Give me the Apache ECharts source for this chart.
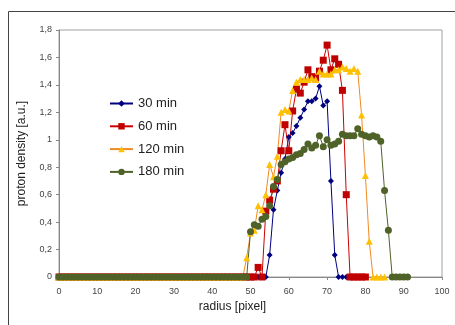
<!DOCTYPE html>
<html>
<head>
<meta charset="utf-8">
<script src="https://cdn.jsdelivr.net/npm/echarts@6/dist/echarts.min.js"></script>
<style>
  html, body { margin: 0; padding: 0; background: #fff; }
  #chart { width: 455px; height: 325px; }
</style>
</head>
<body>
<div id="chart"></div>
<script>
// radius positions in pixel (one per sample)
const radius = [
  0, 1, 2, 3, 4, 5, 6, 7, 8, 9,
  10, 11, 12, 13, 14, 15, 16, 17, 18, 19,
  20, 21, 22, 23, 24, 25, 26, 27, 28, 29,
  30, 31, 32, 33, 34, 35, 36, 37, 38, 39,
  40, 41, 42, 43, 44, 45, 46, 47, 48, 49,
  50, 51, 52, 53, 54, 55, 56, 57, 58, 59,
  60, 61, 62, 63, 64, 65, 66, 67, 68, 69,
  70, 71, 72, 73, 74, 75, 76, 77, 78, 79,
  80, 81, 82, 83, 84, 85, 86, 87, 88, 89,
  90, 91
];

const seriesNames = ["30 min", "60 min", "120 min", "180 min"];

// values from radius 0 upwards
const min30 = [
  0, 0, 0, 0, 0, 0, 0, 0, 0, 0,
  0, 0, 0, 0, 0, 0, 0, 0, 0, 0,
  0, 0, 0, 0, 0, 0, 0, 0, 0, 0,
  0, 0, 0, 0, 0, 0, 0, 0, 0, 0,
  0, 0, 0, 0, 0, 0, 0, 0, 0, 0,
  0, 0, 0, 0, 0, 0.16, 0.49, 0.63, 0.76, 0.86,
  1.02, 1.05, 1.1, 1.16, 1.22, 1.28, 1.28, 1.3, 1.39, 1.25,
  1.28, 0.7, 0.16, 0, 0, 0
];

const min60 = [
  0, 0, 0, 0, 0, 0, 0, 0, 0, 0,
  0, 0, 0, 0, 0, 0, 0, 0, 0, 0,
  0, 0, 0, 0, 0, 0, 0, 0, 0, 0,
  0, 0, 0, 0, 0, 0, 0, 0, 0, 0,
  0, 0, 0, 0, 0, 0, 0, 0, 0, 0,
  0, 0, 0.07, 0, 0.48, 0.56, 0.64, 0.7, 0.92, 1.11,
  0.92, 1.21, 1.37, 1.34, 1.42, 1.51, 1.46, 1.45, 1.5, 1.58,
  1.69, 1.51, 1.59, 1.55, 1.36, 0.6, 0, 0, 0, 0,
  0
];

const min120 = [
  0, 0, 0, 0, 0, 0, 0, 0, 0, 0,
  0, 0, 0, 0, 0, 0, 0, 0, 0, 0,
  0, 0, 0, 0, 0, 0, 0, 0, 0, 0,
  0, 0, 0, 0, 0, 0, 0, 0, 0, 0,
  0, 0, 0, 0, 0, 0, 0, 0, 0, 0.14,
  0.32, 0.34, 0.52, 0.49, 0.6, 0.82, 0.73, 0.88, 1.2, 1.22,
  1.21, 1.36, 1.42, 1.44, 1.44, 1.44, 1.45, 1.44, 1.5, 1.48,
  1.48, 1.48, 1.51, 1.51, 1.53, 1.52, 1.5, 1.52, 1.5, 1.18,
  0.74, 0.26, 0, 0, 0, 0
];

const min180 = [
  0, 0, 0, 0, 0, 0, 0, 0, 0, 0,
  0, 0, 0, 0, 0, 0, 0, 0, 0, 0,
  0, 0, 0, 0, 0, 0, 0, 0, 0, 0,
  0, 0, 0, 0, 0, 0, 0, 0, 0, 0,
  0, 0, 0, 0, 0, 0, 0, 0, 0, 0,
  0.33, 0.38, 0.37, 0.42, 0.44, 0.52, 0.66, 0.71, 0.82, 0.84,
  0.86, 0.87, 0.89, 0.9, 0.93, 0.97, 0.94, 0.96, 1.03, 0.95,
  1.0, 0.96, 0.97, 0.99, 1.04, 1.03, 1.03, 1.03, 1.08, 1.04,
  1.03, 1.02, 1.03, 1.02, 0.99, 0.63, 0.34, 0, 0, 0,
  0, 0
];

const font = "'Liberation Sans', Arial, sans-serif";

function pairs(vals) {
  return vals.map((v, i) => [radius[i], v]);
}

const styles = [
  { line: "#000080", marker: "#000080", symbol: "diamond", size: 6 },
  { line: "#CC0000", marker: "#C00000", symbol: "rect", size: 7 },
  { line: "#F08A24", marker: "#FFC000", symbol: "triangle", size: 7 },
  { line: "#4F6228", marker: "#4F6228", symbol: "circle", size: 7 },
];

const allValues = [min30, min60, min120, min180];

const chart = echarts.init(document.getElementById("chart"));
const option = {
  animation: false,
  backgroundColor: "#fff",
  textStyle: { fontFamily: font },
  graphic: [
    {
      type: "rect",
      shape: { x: 8.5, y: 11.5, width: 500, height: 400 },
      style: { fill: "none", stroke: "#444", lineWidth: 1 },
      z: -1,
    },
  ],
  grid: {
    left: 59,
    right: 13,
    top: 30,
    bottom: 48,
    show: true,
    borderColor: "#A0A0A0",
    borderWidth: 1,
  },
  legend: {
    orient: "vertical",
    left: 104,
    top: 92,
    itemWidth: 23,
    itemHeight: 8,
    itemGap: 9.8,
    textStyle: { fontFamily: font, fontSize: 13, color: "#222" },
    data: seriesNames,
  },
  xAxis: {
    type: "value",
    min: 0,
    max: 100,
    interval: 10,
    name: "radius [pixel]",
    nameLocation: "middle",
    nameGap: 18,
    nameTextStyle: { fontFamily: font, fontSize: 12, color: "#222", padding: [0, 36, 0, 0] },
    axisLine: { lineStyle: { color: "#888", width: 1 } },
    axisTick: { show: true, inside: false, length: 3, lineStyle: { color: "#888" } },
    axisLabel: { fontFamily: font, fontSize: 9, color: "#444", margin: 10 },
    splitLine: { show: false },
  },
  yAxis: {
    type: "value",
    min: 0,
    max: 1.8,
    interval: 0.2,
    name: "proton density [a.u.]",
    nameLocation: "middle",
    nameGap: 31,
    nameRotate: 90,
    nameTextStyle: { fontFamily: font, fontSize: 12, color: "#222" },
    axisLine: { show: true, lineStyle: { color: "#888", width: 1 } },
    axisTick: { show: true, inside: false, length: 3, lineStyle: { color: "#888" } },
    axisLabel: {
      fontFamily: font,
      fontSize: 9,
      color: "#444",
      margin: 7,
      formatter: (v) => String(Math.round(v * 10) / 10).replace(".", ","),
    },
    splitLine: { show: false },
  },
  series: seriesNames.map((name, k) => ({
    name: name,
    type: "line",
    data: pairs(allValues[k]),
    symbol: styles[k].symbol,
    symbolSize: styles[k].size,
    showAllSymbol: true,
    lineStyle: { color: styles[k].line, width: 1 },
    itemStyle: { color: styles[k].marker, borderWidth: 0 },
    emphasis: { disabled: true },
  })),
};
chart.setOption(option);
</script>
</body>
</html>
